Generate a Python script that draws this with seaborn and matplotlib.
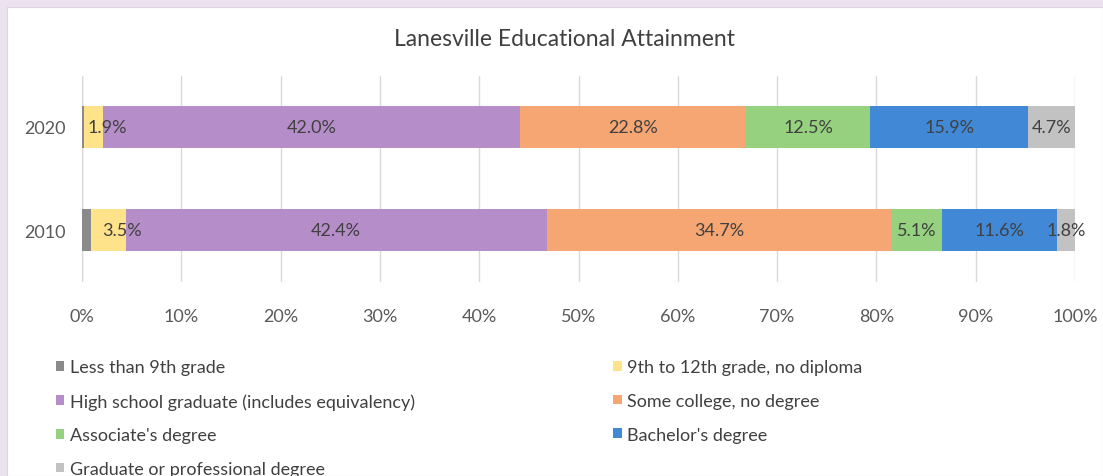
import matplotlib
matplotlib.use("Agg")
import matplotlib.pyplot as plt
import seaborn as sns
import pandas as pd
import numpy as np
from matplotlib.patches import Rectangle, Patch

years = ["2020", "2010"]
categories = [
    "Less than 9th grade",
    "9th to 12th grade, no diploma",
    "High school graduate (includes equivalency)",
    "Some college, no degree",
    "Associate's degree",
    "Bachelor's degree",
    "Graduate or professional degree",
]
values_2020 = [0.2, 1.9, 42.0, 22.8, 12.5, 15.9, 4.7]
values_2010 = [0.9, 3.5, 42.4, 34.7, 5.1, 11.6, 1.8]
colors = ["#8a8a8a", "#ffe38a", "#b58dc9", "#f5a672", "#95d17e", "#4189d6", "#c2c2c2"]
xticks = [0, 10, 20, 30, 40, 50, 60, 70, 80, 90, 100]
title = "Lanesville Educational Attainment"

sns.set_theme(style="white")
plt.rcParams["font.family"] = ["Lato", "DejaVu Sans"]

fig = plt.figure(figsize=(11.03, 4.77), dpi=100)
fig.patch.set_facecolor("#ece3f0")
fig.patches.append(Rectangle((7 / 1103, 0), 1 - 7 / 1103, 1 - 8 / 477,
                             transform=fig.transFigure, facecolor="white",
                             edgecolor="#ddd3e2", linewidth=0.8, zorder=-5))

ax = fig.add_axes([82 / 1103, 1 - 282.5 / 477, (1075 - 82) / 1103, 206 / 477])
ax.set_zorder(2)
ax.set_facecolor("none")

df = pd.DataFrame({"year": np.repeat(years, len(categories)),
                   "cat": categories * 2,
                   "val": values_2020 + values_2010})
df["cum"] = df.groupby("year")["val"].cumsum()

# draw cumulative bars from the last (largest) to the first
for i in range(len(categories) - 1, -1, -1):
    sub = df[df["cat"] == categories[i]]
    sns.barplot(data=sub, x="cum", y="year", order=years, orient="h",
                color=colors[i], width=0.41, ax=ax, zorder=3,
                saturation=1, errorbar=None, linewidth=0)

# data labels
for yi, yr in enumerate(years):
    sub = df[df["year"] == yr].reset_index(drop=True)
    for i, row in sub.iterrows():
        if i == 0:
            continue
        center = row["cum"] - row["val"] / 2
        off = 10 if (row["val"] < 4 and i < len(categories) - 1) else 0
        ax.annotate(f"{row['val']:.1f}%", (center, yi), xytext=(off, 0),
                    textcoords="offset points", ha="center", va="center",
                    fontsize=13, color="#404040", zorder=5)

ax.set_xlim(0, 100)
ax.set_ylim(1.5, -0.5)
ax.set_xticks(xticks)
ax.set_xticklabels([f"{t}%" for t in xticks], fontsize=13, color="#595959")
ax.tick_params(axis="x", length=0, pad=19)
ax.tick_params(axis="y", length=0, pad=12)
for lab in ax.get_yticklabels():
    lab.set_fontsize(13)
    lab.set_color("#595959")
ax.set_xlabel("")
ax.set_ylabel("")
ax.xaxis.grid(True, color="#d9d9d9", linewidth=1)
ax.set_axisbelow(True)
for s in ax.spines.values():
    s.set_visible(False)
ax.axvline(0, color="#d9d9d9", linewidth=1, zorder=1)

fig.text(565 / 1103, 1 - 40 / 477, title, ha="center", va="center",
         fontsize=16.5, color="#404040")

# legend laid out row by row (two columns)
order = [0, 2, 4, 6, 1, 3, 5]
handles = [Patch(facecolor=colors[k], edgecolor="none") for k in order]
labels = [categories[k] for k in order]
leg = fig.legend(handles, labels, loc="upper left",
                 bbox_to_anchor=(40 / 1103, 1 - 344 / 477), ncol=2,
                 frameon=False, fontsize=13, handlelength=0.45,
                 handleheight=0.45, handletextpad=0.3, columnspacing=11.0,
                 labelspacing=0.98, labelcolor="#404040")

fig.savefig("out.png", dpi=100, facecolor=fig.get_facecolor())
